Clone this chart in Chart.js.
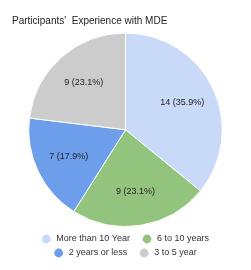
<!DOCTYPE html>
<html>
<head>
<meta charset="utf-8">
<script src="https://cdn.jsdelivr.net/npm/chart.js@4/dist/chart.umd.min.js"></script>
<style>
html,body{margin:0;padding:0;background:#fff;}
#wrap{width:251px;height:270px;}
</style>
</head>
<body>
<div id="wrap"><canvas id="c" width="251" height="270"></canvas></div>
<script>
const titleText = "Participants'  Experience with MDE";
const categories = ["More than 10 Year", "6 to 10 years", "2 years or less", "3 to 5 year"];
const counts = [14, 9, 7, 9];
const colors = ["#c9daf8", "#93c47d", "#6d9eeb", "#cccccc"];
const legendRows = [[0, 1], [2, 3]];
const FONT = "'Liberation Sans', Arial, sans-serif";

const total = counts.reduce((a, b) => a + b, 0);

const labelPlugin = {
  id: 'sliceLabels',
  afterDatasetsDraw(chart) {
    const ctx = chart.ctx;
    const meta = chart.getDatasetMeta(0);
    ctx.save();
    ctx.font = "9px " + FONT;
    ctx.fillStyle = "#222";
    ctx.textAlign = "center";
    ctx.textBaseline = "middle";
    meta.data.forEach((arc, i) => {
      const p = arc.getProps(['x', 'y', 'startAngle', 'endAngle', 'outerRadius'], true);
      const mid = (p.startAngle + p.endAngle) / 2;
      const r = p.outerRadius * 0.65;
      const v = counts[i];
      const pct = (v / total * 100).toFixed(1);
      ctx.fillText(v + " (" + pct + "%)", p.x + Math.cos(mid) * r, p.y + Math.sin(mid) * r);
    });
    ctx.restore();
  }
};

// Legend drawn in the space reserved below the chart area
const legendPlugin = {
  id: 'bottomLegend',
  afterDraw(chart) {
    const ctx = chart.ctx;
    const cx = (chart.chartArea.left + chart.chartArea.right) / 2;
    const dotR = 4.4, dotToText = 10, itemGap = 17;
    const rowY = [chart.chartArea.bottom + 12, chart.chartArea.bottom + 26];
    ctx.save();
    ctx.font = "9px " + FONT;
    ctx.textBaseline = "middle";
    ctx.textAlign = "left";
    legendRows.forEach((row, ri) => {
      const widths = row.map(i => ctx.measureText(categories[i]).width);
      let rowW = dotR;
      row.forEach((i, k) => { rowW += dotToText + widths[k] + (k < row.length - 1 ? itemGap : 0); });
      let x = cx - rowW / 2 + dotR; // circle centre
      row.forEach((i, k) => {
        ctx.beginPath();
        ctx.arc(x, rowY[ri], dotR, 0, Math.PI * 2);
        ctx.fillStyle = colors[i];
        ctx.fill();
        ctx.fillStyle = "#333";
        ctx.fillText(categories[i], x + dotToText, rowY[ri]);
        x += dotToText + widths[k] + itemGap;
      });
    });
    ctx.restore();
  }
};

new Chart(document.getElementById('c'), {
  type: 'pie',
  data: {
    labels: categories,
    datasets: [{
      data: counts,
      backgroundColor: colors,
      borderColor: '#ffffff',
      borderWidth: 1
    }]
  },
  options: {
    responsive: false,
    animation: false,
    layout: { padding: { left: 12, right: 12, top: 0, bottom: 43 } },
    plugins: {
      title: {
        display: true,
        text: titleText,
        align: 'start',
        color: '#222',
        font: { family: FONT, size: 10, weight: 'normal' },
        padding: { top: 15.5, bottom: 5 }
      },
      legend: { display: false },
      tooltip: { enabled: false }
    }
  },
  plugins: [labelPlugin, legendPlugin]
});
</script>
</body>
</html>
